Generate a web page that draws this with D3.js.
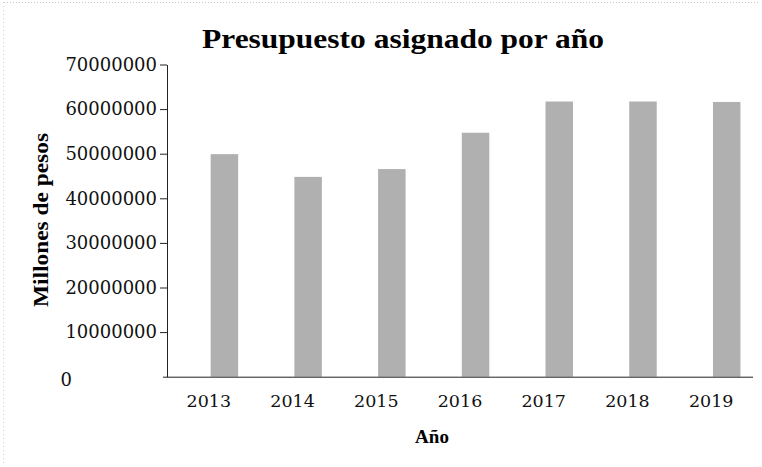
<!DOCTYPE html>
<html>
<head>
<meta charset="utf-8">
<script src="https://cdn.jsdelivr.net/npm/d3@7"></script>
<style>
  body { margin: 0; background: #fff; }
  svg { display: block; }
</style>
</head>
<body>
<svg width="762" height="467"></svg>
<script>
const years = ["2013", "2014", "2015", "2016", "2017", "2018", "2019"];
const budget = [49900000, 44800000, 46550000, 54700000, 61700000, 61700000, 61600000];
const yTicks = [0, 10000000, 20000000, 30000000, 40000000, 50000000, 60000000, 70000000];

const svg = d3.select("svg");

const plotLeft = 167;
const plotRight = 753;
const plotTop = 64.5;
const plotBottom = 376.7;
const barWidth = 27.5;

const xScale = d3.scaleBand().domain(years).range([plotLeft, plotRight]);
const yScale = d3.scaleLinear().domain([0, 70000000]).range([plotBottom, plotTop]);

// faint scan border
svg.append("line")
  .attr("x1", 4).attr("x2", 758).attr("y1", 2.5).attr("y2", 2.5)
  .attr("stroke", "#c8c8c8").attr("stroke-dasharray", "1,2");
svg.append("line")
  .attr("x1", 3.5).attr("x2", 3.5).attr("y1", 2).attr("y2", 465)
  .attr("stroke", "#d0d0d0").attr("stroke-dasharray", "1,3");

// Title
svg.append("text")
  .attr("x", 403)
  .attr("y", 48)
  .attr("text-anchor", "middle")
  .style("font-family", "Liberation Serif")
  .style("font-weight", "bold")
  .style("font-size", "28px")
  .attr("textLength", 402)
  .attr("lengthAdjust", "spacingAndGlyphs")
  .text("Presupuesto asignado por año");

// Bars
svg.append("g")
  .selectAll("rect")
  .data(years)
  .enter()
  .append("rect")
  .attr("x", function (d) { return xScale(d) + xScale.bandwidth() / 2 + 1.8; })
  .attr("y", function (d, i) { return yScale(budget[i]); })
  .attr("width", barWidth)
  .attr("height", function (d, i) { return plotBottom - yScale(budget[i]); })
  .attr("fill", "#b0b0b0");

// Y axis
const yAxis = svg.append("g")
  .attr("transform", "translate(" + plotLeft + ",0)")
  .call(d3.axisLeft(yScale).tickValues(yTicks).tickFormat(d3.format("d")).tickSize(7).tickSizeOuter(0).tickPadding(3));
yAxis.select(".domain").attr("stroke", "#222");
yAxis.selectAll(".tick line").attr("stroke", "#222");
yAxis.selectAll(".tick text")
  .style("font-family", "DejaVu Serif")
  .style("font-size", "18px")
  .attr("fill", "#111");
yAxis.selectAll(".tick").filter(function (d) { return d === 0; })
  .select("text")
  .attr("x", -95)
  .attr("dy", "0.5em");
yAxis.selectAll(".tick").filter(function (d) { return d === 0; })
  .select("line").remove();

// X axis
const xAxis = svg.append("g")
  .attr("transform", "translate(0," + plotBottom + ")")
  .call(d3.axisBottom(xScale).tickSize(0).tickPadding(18));
xAxis.select(".domain").attr("stroke", "#222").attr("d", "M" + (plotLeft - 4) + ",0.5H" + plotRight);
xAxis.selectAll(".tick text")
  .style("font-family", "DejaVu Serif")
  .style("font-size", "17.5px")
  .attr("fill", "#111");

// X label
svg.append("text")
  .attr("x", 432)
  .attr("y", 443)
  .attr("text-anchor", "middle")
  .style("font-family", "Liberation Serif")
  .style("font-weight", "bold")
  .style("font-size", "19px")
  .text("Año");

// Y label
svg.append("text")
  .attr("text-anchor", "middle")
  .attr("transform", "translate(48,220)rotate(-90)")
  .style("font-family", "Liberation Serif")
  .style("font-weight", "bold")
  .style("font-size", "20px")
  .attr("textLength", 174)
  .attr("lengthAdjust", "spacingAndGlyphs")
  .text("Millones de pesos");
</script>
</body>
</html>
